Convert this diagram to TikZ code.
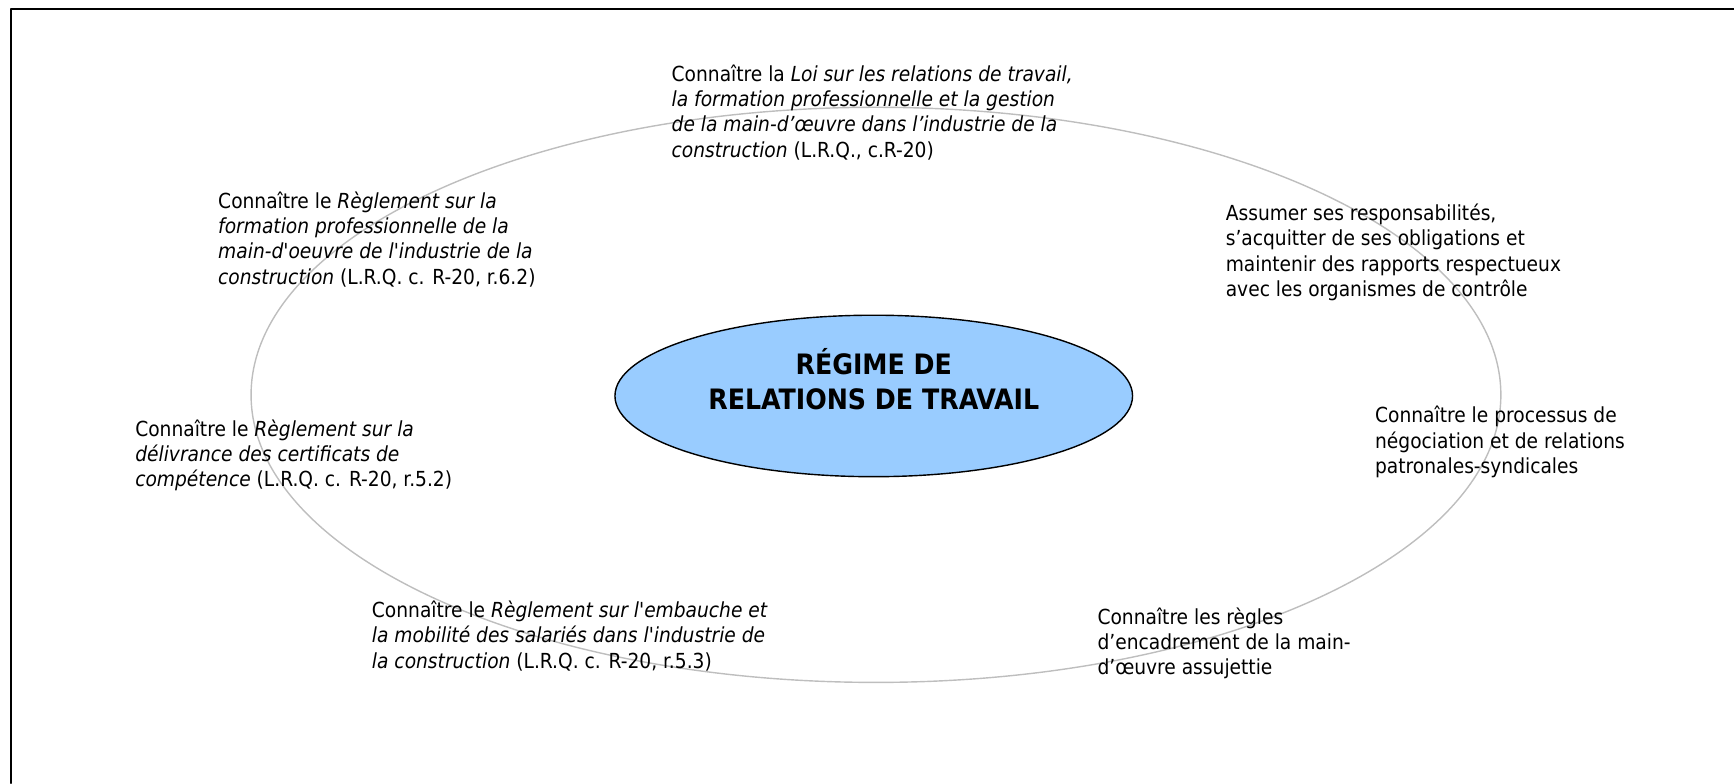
\documentclass[tikz,border=0pt]{standalone}
\usepackage{fontspec}
\usepackage{tikz}
\usetikzlibrary{shapes.geometric, positioning}
\setmainfont{DejaVu Sans Condensed}
\definecolor{ringgray}{RGB}{190, 190, 190}
\definecolor{coreblue}{RGB}{153, 204, 255}

% text blocks hang from the baseline of their last line
\tikzset{
    note/.style={anchor=base west, inner sep=0pt, align=left,
        font=\fontsize{11.8}{14.4}\selectfont},
}

\begin{document}
\begin{tikzpicture}[x=0.02212cm, y=-0.02212cm, line cap=round, line join=round]
    	\useasboundingbox (0,0) rectangle (1567.8,708);
    	\coordinate (C) at (792,357);
    	
		\draw [-,black,line width=1.2pt] (10,708)--(10,8)--(1567.8,8);
		\draw [-,ringgray,line width=0.8pt] (C) ellipse [x radius=565, y radius=260];
		
		\draw [black,fill=coreblue,line width=0.8pt] (790,358) ellipse [x radius=234, y radius=73];
		\node (core) [align=center, font=\fontsize{16}{19.9}\selectfont\bfseries] at (790,342.5)
			{RÉGIME DE\\RELATIONS DE TRAVAIL};
    	
		\node (loi) [note] at (607,142) {Connaître la \textit{Loi sur les relations de travail,}\\
			\textit{la formation professionnelle et la gestion}\\
			\textit{de la main-d’œuvre dans l’industrie de la}\\
			\textit{construction} (L.R.Q., c.R-20)};
		\node (formation) [note] at (197,257) {Connaître le \textit{Règlement sur la}\\
			\textit{formation professionnelle de la}\\
			\textit{main-d\textquotesingle oeuvre de l\textquotesingle industrie de la}\\
			\textit{construction} (L.R.Q. c. R-20, r.6.2)};
		\node (responsable) [note] at (1108,268) {Assumer ses responsabilités,\\
			s’acquitter de ses obligations et\\
			maintenir des rapports respectueux\\
			avec les organismes de contrôle};
		\node (certificats) [note] at (122,440) {Connaître le \textit{Règlement sur la}\\
			\textit{délivrance des certificats de}\\
			\textit{compétence} (L.R.Q. c. R-20, r.5.2)};
		\node (negociation) [note] at (1243,428) {Connaître le processus de\\
			négociation et de relations\\
			patronales-syndicales};
		\node (embauche) [note] at (336,604) {Connaître le \textit{Règlement sur l\textquotesingle embauche et}\\
			\textit{la mobilité des salariés dans l\textquotesingle industrie de}\\
			\textit{la construction} (L.R.Q. c. R-20, r.5.3)};
		\node (encadrement) [note] at (992,610) {Connaître les règles\\
			d’encadrement de la main-\\
			d’œuvre assujettie};
\end{tikzpicture}
\end{document}
